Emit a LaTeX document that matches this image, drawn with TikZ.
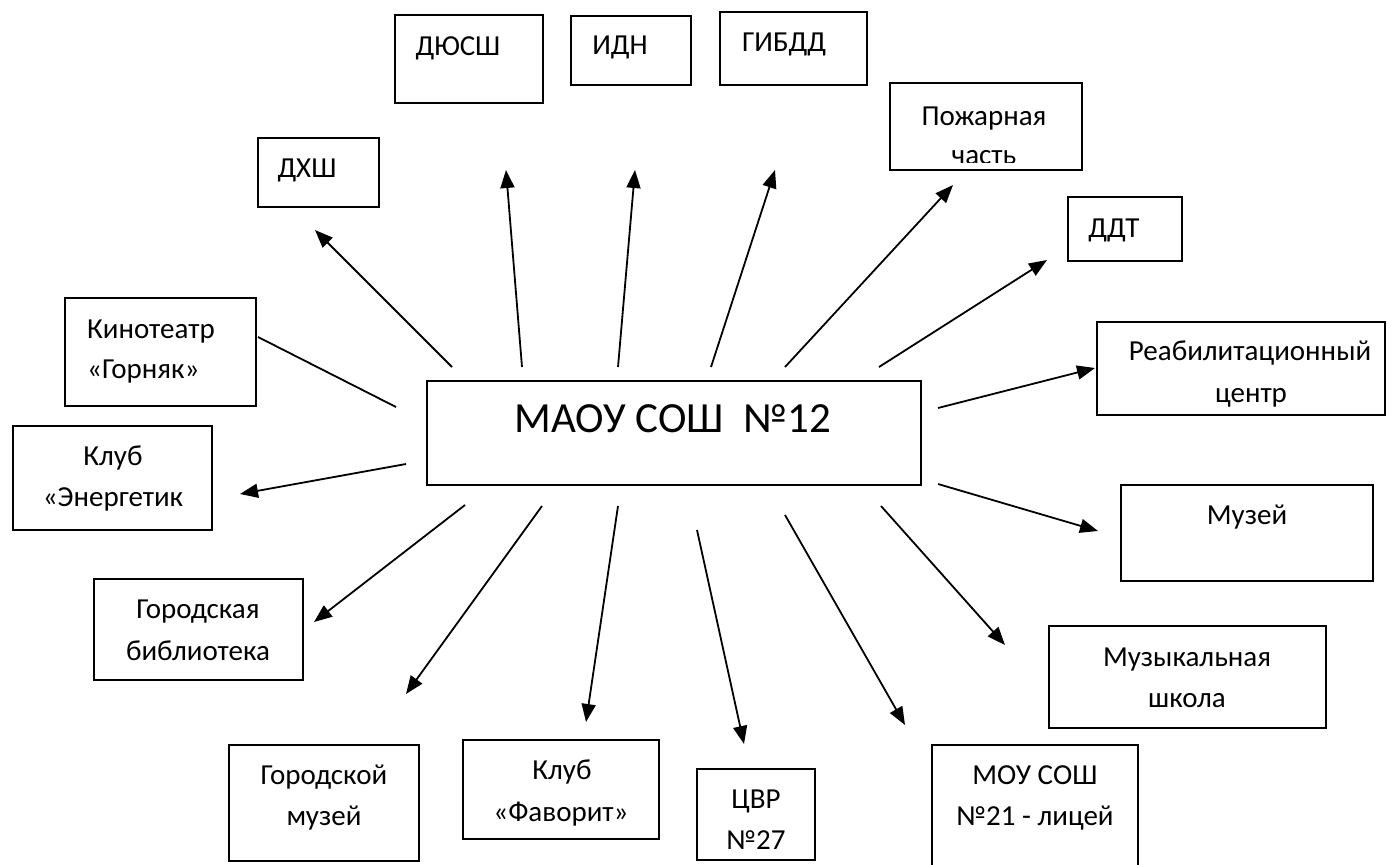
\documentclass[tikz,border=0pt]{standalone}
\usepackage{fontspec}
\setmainfont{Carlito}
\usetikzlibrary{arrows.meta,fit}
\begin{document}
\begin{tikzpicture}[x=1pt,y=-1pt,
  box/.style={draw=black, line width=2.8pt, inner sep=0pt, fill=none},
  txt/.style={font=\fontsize{29}{40}\selectfont, inner sep=0pt, anchor=base},
  txtl/.style={txt, anchor=base west},
  bigtxt/.style={font=\fontsize{43}{50}\selectfont, inner sep=0pt, anchor=base},
  arr/.style={line width=1.8pt, -{Triangle[length=18pt,width=14pt]}},
  plain/.style={line width=1.8pt}]
\useasboundingbox[fill=white] (0,0) rectangle (1388,864);

% boxes
\node[box, fit={(427,381) (921,485)}] (main) {};
\node[box, fit={(258,138) (379,207)}] (dhsh) {};
\node[box, fit={(395,15) (543,103)}] (dyussh) {};
\node[box, fit={(571,16) (691,85)}] (idn) {};
\node[box, fit={(720,12) (867,85)}] (gibdd) {};
\node[box, fit={(890,83) (1082,170)}] (pozh) {};
\node[box, fit={(1068,197) (1182,261)}] (ddt) {};
\node[box, fit={(1097,322) (1385,415)}] (reab) {};
\node[box, fit={(1121,485) (1373,581)}] (muzey) {};
\node[box, fit={(1049,626) (1326,728)}] (muzsh) {};
\node[box, fit={(932,745) (1138,870)}] (mou) {};
\node[box, fit={(697,769) (815,860)}] (cvr) {};
\node[box, fit={(463,740) (659,839)}] (fav) {};
\node[box, fit={(229,745) (419,861)}] (gmuz) {};
\node[box, fit={(94,579) (303,680)}] (bibl) {};
\node[box, fit={(13,426) (212,530)}] (energ) {};
\node[box, fit={(65,298) (256,406)}] (kino) {};

% texts
\node[bigtxt] (tmain) at (673,432) {МАОУ СОШ \ №12};
\node[txt] (tdhsh) at (307,177) {ДХШ};
\node[txt] (tdyussh) at (458,56) {ДЮСШ};
\node[txt] (tidn) at (620,55) {ИДН};
\node[txt] (tgibdd) at (784,52) {ГИБДД};
\node[txt] (tpozh1) at (984,125) {Пожарная};
\begin{scope}
  \clip (891,84) rectangle (1081,162);
  \node[txt] (tpozh2) at (984,164) {часть};
\end{scope}
\node[txt] (tddt) at (1114,237) {ДДТ};
\node[txt] (treab1) at (1250,360) {Реабилитационный};
\node[txt] (treab2) at (1251,402) {центр};
\node[txt] (tmuzey) at (1247,524) {Музей};
\node[txt] (tmuzsh1) at (1187,666) {Музыкальная};
\node[txt] (tmuzsh2) at (1187,707) {школа};
\node[txt] (tmou1) at (1035,784) {МОУ СОШ};
\node[txt] (tmou2) at (1035,825) {№21 - лицей};
\node[txt] (tcvr1) at (756,808) {ЦВР};
\node[txt] (tcvr2) at (756,849) {№27};
\node[txt] (tfav1) at (562,779) {Клуб};
\node[txt] (tfav2) at (561,821) {«Фаворит»};
\node[txt] (tgmuz1) at (324,784) {Городской};
\node[txt] (tgmuz2) at (324,825) {музей};
\node[txt] (tbibl1) at (198,618) {Городская};
\node[txt] (tbibl2) at (198,660) {библиотека};
\node[txt] (tenerg1) at (113,465) {Клуб};
\node[txt] (tenerg2) at (113,506) {«Энергетик};
\node[txtl] (tkino1) at (87,338) {Кинотеатр};
\node[txtl] (tkino2) at (87,378) {«Горняк»};

% connector end points
\coordinate (s1) at (452,367);  \coordinate (e1) at (315,230);
\coordinate (s2) at (522,367);  \coordinate (e2) at (506,170);
\coordinate (s3) at (618,367);  \coordinate (e3) at (635,170);
\coordinate (s4) at (711,367);  \coordinate (e4) at (775,170);
\coordinate (s5) at (785,367);  \coordinate (e5) at (953,185);
\coordinate (s6) at (879,367);  \coordinate (e6) at (1047,260);
\coordinate (s7) at (938,408);  \coordinate (e7) at (1095,368);
\coordinate (s8) at (938,484);  \coordinate (e8) at (1098,531);
\coordinate (s9) at (881,506);  \coordinate (e9) at (1005,645);
\coordinate (s10) at (785,515); \coordinate (e10) at (905,725);
\coordinate (s11) at (697,530); \coordinate (e11) at (744,744);
\coordinate (s12) at (618,506); \coordinate (e12) at (586,722);
\coordinate (s13) at (542,506); \coordinate (e13) at (406,694);
\coordinate (s14) at (465,505); \coordinate (e14) at (314,622);
\coordinate (s15) at (406,464); \coordinate (e15) at (240,494);
\coordinate (s16) at (396,407); \coordinate (e16) at (258,337);

\draw[arr] (s1) -- (e1);
\draw[arr] (s2) -- (e2);
\draw[arr] (s3) -- (e3);
\draw[arr] (s4) -- (e4);
\draw[arr] (s5) -- (e5);
\draw[arr] (s6) -- (e6);
\draw[arr] (s7) -- (e7);
\draw[arr] (s8) -- (e8);
\draw[arr] (s9) -- (e9);
\draw[arr] (s10) -- (e10);
\draw[arr] (s11) -- (e11);
\draw[arr] (s12) -- (e12);
\draw[arr] (s13) -- (e13);
\draw[arr] (s14) -- (e14);
\draw[arr] (s15) -- (e15);
\draw[plain] (s16) -- (e16);
\end{tikzpicture}
\end{document}
